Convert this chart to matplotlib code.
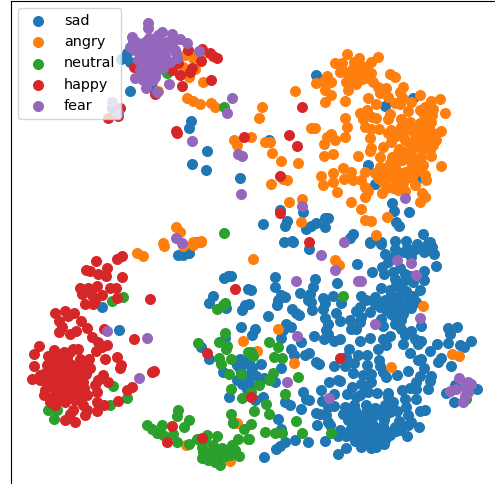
import matplotlib
matplotlib.use('Agg')
import matplotlib.pyplot as plt

# points, in picture pixels (x, y)
sad = [(130,91),(191,121),(189,128),(207,151),(192,164),(206,170),(240,178),(127,53),(125,58),(130,62),(133,43),(140,75),(152,87),(147,83),(121,59),(112,108),(197,242),
(316,75),(358,65),(413,98),(385,106),(269,140),(368,165),(375,184),(413,175),(418,178),(392,203),(394,211),(409,212),(396,222),(399,226),(280,210),(303,212),(263,224),(287,221),(285,226),(306,229),(311,226),(316,223),(325,227),(328,218),(325,218),(353,234),(350,238),(423,234),
(284,242),(292,241),(370,242),(381,242),(395,241),(406,241),(430,242),
(102,307),(119,330),(178,255),(183,255),(189,253),(224,278),(228,276),(231,276),(213,296),(209,303),(226,308),(242,310),(245,305),(241,327),(248,289),(225,338),(201,347),(209,359),(240,359),(237,365),(223,372),(237,380),(242,384),(248,375),(229,397),(247,389),(233,422),(218,455),
(293,242),(309,249),(370,243),(381,244),(385,254),(395,249),(407,248),(421,248),(432,247),(426,248),(434,254),(411,257),(395,255),
(357,264),(436,266),(372,272),(382,267),(384,274),(393,272),(405,274),(424,271),(275,277),(315,279),(337,283),(395,279),(405,280),(413,282),(424,280),(396,285),(275,287),(313,287),(251,290),(381,288),(420,290),
(300,293),(281,295),(285,297),(310,294),(308,300),(323,298),(333,296),(361,296),(375,297),(391,295),(401,293),(406,291),
(278,300),(277,305),(249,304),(311,302),(325,303),(341,303),(375,304),(385,300),(395,302),(410,300),(416,302),
(312,310),(323,309),(292,309),(360,307),(356,311),(380,307),(388,307),(398,309),(411,308),
(296,313),(299,315),(268,316),(336,313),(361,317),(391,314),(403,314),
(325,318),(350,320),(360,322),(340,321),(381,319),(395,324),(401,320),
(286,324),(328,324),(383,326),(421,326),(291,327),(448,328),(457,327),
(255,329),(283,330),(326,330),(351,329),(356,329),(401,329),(450,334),
(252,335),(281,338),(314,336),(390,336),(411,331),(405,335),(324,339),(328,334),(340,339),(370,338),(383,339),(415,339),(421,341),
(334,341),(360,341),(301,342),(386,345),(403,344),(418,344),(437,344),(448,343),(460,345),(471,341),(464,347),
(349,349),(378,349),(291,349),(430,351),(309,353),(305,355),(410,353),(294,355),
(358,355),(367,355),(346,357),(418,360),(421,359),(441,358),(438,362),
(316,362),(319,364),(379,360),(261,364),(354,363),(334,366),(345,366),(367,365),(451,366),(380,366),(281,368),(424,368),(250,365),
(353,373),(383,372),(386,377),(397,375),(408,371),(363,375),(371,374),(420,376),(431,376),
(264,378),(275,382),(329,382),(338,380),(340,381),(361,384),(371,382),(416,382),(430,381),(250,375),
(352,387),(321,390),(402,390),(410,388),(416,389),(428,389),(477,389),(303,392),(377,393),(365,390),(388,393),(446,393),(455,385),
(334,394),(347,394),(360,395),(368,392),(306,399),(309,400),(322,401),(388,397),(405,399),(416,399),(356,397),(255,400),(263,397),
(454,402),(285,402),(290,405),(328,407),(334,406),(345,407),(354,405),(366,405),(385,405),(406,407),
(301,409),(355,410),(383,410),(366,412),(397,411),(420,411),(425,410),
(316,413),(320,414),(326,415),(343,414),(348,415),(358,415),(375,415),(385,415),(408,415),
(278,419),(328,422),(348,420),(365,419),(371,420),(411,422),(399,421),(358,424),
(317,425),(281,429),(330,425),(363,425),(383,426),(395,427),(408,425),(419,427),(373,425),
(350,430),(360,430),(368,430),(378,430),(388,432),(400,430),(396,431),
(338,436),(346,436),(363,435),(373,435),(381,435),(407,436),(390,435),
(285,442),(295,440),(308,442),(325,441),(365,441),(376,440),(385,440),
(280,446),(276,449),(346,448),(361,447),(371,448),(376,447),(338,454),(264,457),
# denser parts
(340,430),(352,420),(357,436),(362,428),(368,424),(374,432),(380,428),(384,420),(355,441),(366,436),(372,443),(378,438),(384,444),(358,418),(368,410),(375,408),(390,412),(393,402),
(400,297),(392,303),(402,306),(408,305),(386,310),(394,316),(405,309),(413,296),(400,286),(390,290),(410,276),(400,268),(388,262),(404,252),(414,250),(424,252),(428,243),(417,244),(366,300),(370,312),
(240,369),(244,378),(250,385),(246,362),(252,368),(256,376)]

angry = [(185,55),(193,58),(203,53),(183,67),(195,69),(189,77),(203,82),(140,72),(158,91),(187,98),(193,101),(200,104),(211,103),(215,107),(234,140),(237,145),(176,227),(180,232),(163,243),(193,242),(201,241),
(347,54),(335,63),(342,63),(359,58),(378,57),(354,62),(371,62),(365,67),(353,68),(340,72),(345,72),(360,72),(371,73),(390,74),(395,77),(316,83),(323,82),(327,76),(331,82),(346,82),(355,77),(362,79),(373,82),(378,87),(386,88),(403,87),(400,92),(325,90),(331,95),(348,90),(380,93),(388,97),(402,97),(420,95),(325,102),(345,101),(368,98),(376,104),(395,103),(400,104),(411,102),(431,101),(440,99),(425,107),(433,109),(408,111),(445,113),
(295,91),(262,107),(259,118),
(360,113),(367,110),(390,114),(388,119),(345,118),(363,119),(372,117),(376,118),(423,113),(401,119),(410,122),(425,120),(431,122),
(347,127),(311,128),(315,128),(365,127),(371,129),(379,129),(391,130),(401,127),(411,128),(420,130),(428,128),(441,131),
(331,134),(327,137),(345,137),(370,138),(388,133),(405,140),(415,135),(425,137),(433,138),
(324,144),(335,140),(391,142),(383,147),(371,148),(399,149),(418,147),(428,145),(433,145),
(265,142),(270,142),(251,137),(272,153),
(370,151),(324,156),(333,154),(358,156),(380,157),(411,154),(431,156),(421,157),(396,158),(405,158),
(281,161),(298,163),(390,163),(415,162),(423,165),(441,166),(380,167),(385,168),(395,168),(411,168),(418,167),
(343,168),(365,172),(333,173),(321,176),(351,172),(375,173),(380,175),(391,173),(400,173),(425,175),
(344,179),(333,182),(353,180),(361,180),(378,178),(395,180),(406,178),(426,180),(287,180),(283,179),
(323,185),(271,184),(365,187),(415,185),(393,188),(386,188),(337,192),(368,191),(398,190),(405,191),(382,193),(422,193),(365,197),(425,197),
(302,199),(289,202),(351,202),(420,202),(361,209),(387,217),(365,220),(371,221),(301,222),(376,235),
(137,253),(143,256),(164,246),(183,246),(193,245),(201,242),(243,341),(237,423),(186,445),(230,461),
(253,259),(335,260),(339,265),(423,306),(278,329),(257,351),(294,363),(452,354),(459,356),(391,367),
# denser parts
(412,130),(420,123),(430,130),(436,134),(425,148),(418,138),(410,143),(404,132),(396,136),(432,115),(428,112),(420,110),(395,165),(402,160),(410,160),(420,162),(415,172),(405,172),(388,178),(383,182),(360,65),(350,75),(368,78),(356,84),(392,157),(398,152),(408,150),(430,150),(436,140),(426,140),(412,178),(403,183)]

neutral = [(123,297),(112,301),(113,386),(127,398),(110,405),(48,410),(57,410),(54,419),(80,395),(67,395),
(178,410),(177,416),(189,420),(184,427),(147,425),(152,429),(157,433),(162,425),(163,435),(173,434),(177,442),(189,444),(197,439),(207,435),(217,436),(202,447),(213,445),(203,452),(202,458),(217,452),(227,450),(232,445),(220,465),(230,455),(239,456),(238,439),(248,439),(244,429),(231,414),(233,423),(213,454),
(225,333),(219,342),(227,346),(226,349),(198,343),(219,358),(221,364),(231,359),(229,374),(241,374),(231,389),(242,398),(225,303),(217,309),(223,305),(248,352),
(343,296),(269,342),(278,347),(251,352),(253,356),(274,357),(282,358),(273,373),(298,377),(269,380),(259,385),(251,392),(285,394),(266,404),(254,411),(269,414),(251,424),(296,421),(265,432),(275,433),(282,433),(302,433),(331,433),(249,439),
(167,73),(224,107),(224,233),(466,399),
(205,440),(210,452),(222,448),(225,456),(208,460),(215,462),(235,450)]

happy = [(188,50),(202,49),(210,53),(213,56),(217,58),(201,61),(178,63),(172,70),(192,68),(190,72),(180,75),(134,67),(211,80),(182,86),(155,94),(120,108),(118,116),(108,118),(176,131),(177,133),(244,137),
(302,107),(289,135),(297,146),(280,176),(280,213),(309,242),(340,358),(251,397),
(96,261),(117,259),(122,256),(86,270),(107,268),(90,271),(98,274),(106,276),(122,277),
(80,288),(88,288),(97,286),(110,288),(116,288),(82,294),(92,295),(102,295),(117,298),(95,300),(85,304),(93,304),(150,299),
(55,313),(65,311),(74,313),(68,316),(59,321),(81,321),(62,327),(59,332),(87,328),(76,331),(70,334),(104,329),
(92,337),(98,342),(107,345),(102,347),(96,351),(134,339),
(39,346),(34,354),(54,350),(73,349),(78,349),(48,356),(60,355),(67,358),(80,359),(89,359),(105,359),(117,357),
(34,366),(47,365),(55,364),(63,365),(72,365),(82,365),(88,367),(121,365),(120,368),
(45,373),(53,374),(62,374),(70,373),(78,374),(90,368),
(32,379),(40,380),(50,379),(58,380),(67,379),(75,380),(83,382),(103,375),(108,382),(152,372),(154,371),(98,380),
(45,390),(55,389),(63,387),(72,389),(80,389),(95,385),(132,387),(127,390),
(53,397),(62,395),(70,397),(87,395),(97,392),(118,401),
(55,405),(65,402),(75,400),(83,405),(97,402),(104,405),
(73,410),(87,410),(97,411),(85,415),(70,414),(65,420),(75,422),
(172,426),(202,438),(167,442),(207,353),(235,289),
# denser parts
(60,370),(68,370),(76,370),(50,368),(56,378),(64,380),(72,384),(80,377),(50,385),(60,392),(68,393),(76,394),(44,380),(86,374),(58,360),(70,352),(52,358),(64,352),(40,375),(44,395),(50,402),(60,400),(80,400),(84,388)]

fear = [(148,23),(148,28),(132,37),(162,32),(172,34),(149,38),(157,40),(167,42),(180,39),(187,43),(130,47),(142,44),(147,50),(155,47),(163,43),(140,53),(150,55),(165,55),(176,53),(177,58),(199,51),(143,62),(152,63),(160,62),(147,68),(157,67),(163,68),(135,78),(147,75),(155,77),(143,80),(146,88),(169,84),(157,92),(232,98),(227,113),(192,141),(238,154),(242,156),(241,194),(112,102),(118,113),(176,238),(182,243),
(138,60),(145,58),(155,58),(135,50),(160,52),(152,45),(170,47),(175,50),
(405,198),(302,206),(344,242),
(321,255),(397,260),(411,263),(335,270),(416,275),(296,281),(358,281),(361,281),(420,318),(375,324),(297,336),(287,382),(329,398),(459,378),(468,382),(471,384),(465,387),(456,389),(450,391),(468,392),(465,396),(463,402),
(107,331),(147,338),(139,378),
(150,48),(158,50),(145,42),(142,66),(150,70),(156,72),(140,70),(170,62),(165,48),(158,35),(172,44),(136,42),(153,80)]

labels = ['sad', 'angry', 'neutral', 'happy', 'fear']
groups = [sad, angry, neutral, happy, fear]

fig = plt.figure(figsize=(4.95, 4.84), dpi=100)
# the frame runs past the right and bottom edge of the image
ax = fig.add_axes([10.5/495, -6/484, 490/495, 489/484])
for pts, label in zip(groups, labels):
    xs = [p[0] for p in pts]
    ys = [p[1] for p in pts]
    ax.scatter(xs, ys, s=48, label=label)
ax.set_xlim(10.5, 500.5)
ax.set_ylim(490, 1)
ax.set_xticks([])
ax.set_yticks([])
ax.legend(loc='upper left', fontsize=10.4, labelspacing=0.5)
fig.savefig('out.png', dpi=100)
